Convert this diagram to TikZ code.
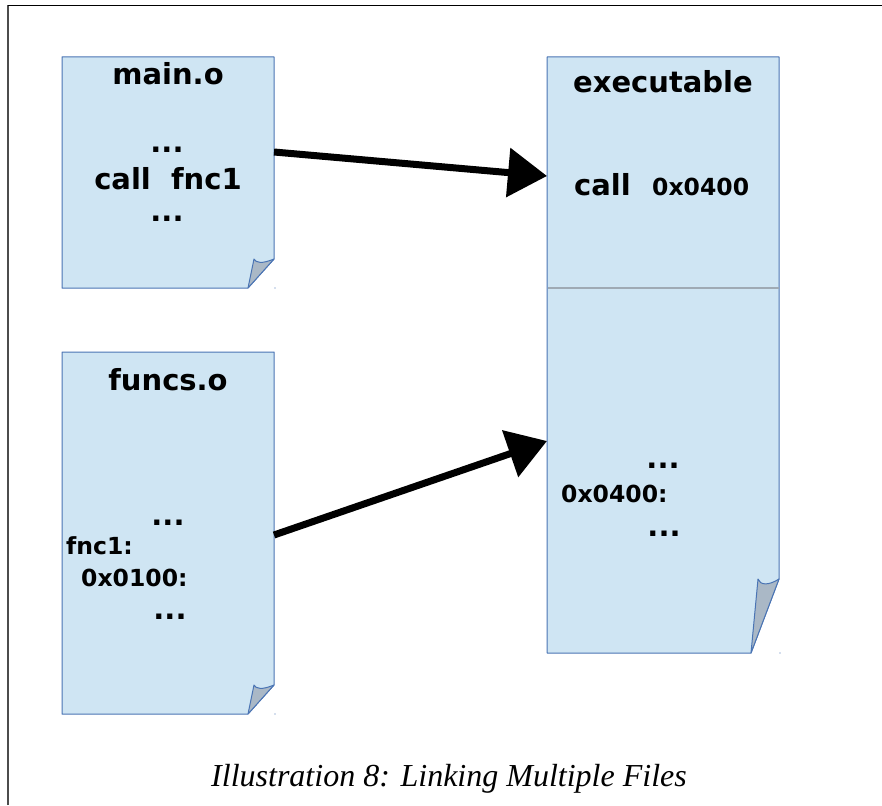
\documentclass[tikz,border=0pt]{standalone}
\usepackage{fontspec}
\setmainfont{DejaVu Sans}
\newfontfamily\capfont{Liberation Serif}
\usetikzlibrary{arrows.meta}
\definecolor{docfill}{HTML}{CFE5F3}
\definecolor{docline}{HTML}{4A74B4}
\definecolor{foldfill}{HTML}{AAB8C6}
\definecolor{divline}{HTML}{9FAAB4}
\tikzset{
  docshape/.style={fill=docfill, draw=docline, line width=1pt, line join=round},
  foldshape/.style={fill=foldfill, draw=docline, line width=1pt, line join=round},
  big/.style={font=\fontsize{29}{34}\selectfont\bfseries, inner sep=0pt, anchor=base},
  small/.style={font=\fontsize{23.5}{28}\selectfont\bfseries, inner sep=0pt, anchor=base},
  bigarrow/.style={line width=7pt, -{Triangle[length=39pt,width=48pt]}},
}
\begin{document}
\begin{tikzpicture}[x=1pt,y=-1pt]
\useasboundingbox (0,0) rectangle (882,805);
% frame
\draw[line width=1.2pt, black!70] (8,805) -- (8,5.5);
\draw[line width=1.4pt, black] (8,5.5) -- (882,5.5);

% main.o
\path[docshape] (62,57) -- (274,57) -- (274,259) -- (248,288) -- (62,288) -- cycle;
\path[foldshape] (248,288) -- (254,259) .. controls (256,263) and (262,264) .. (274,259) -- cycle;
\fill[docline] (275,288) circle (0.6);
\node[big] (mtitle) at (168,85) {main.o};
\node[big] (mdots1) at (167,153) {...};
\node[big] (mcall) at (168,189) {call\ \ fnc1};
\node[big] (mdots2) at (167,221) {...};

% funcs.o
\path[docshape] (62,352) -- (274,352) -- (274,685) -- (248,714) -- (62,714) -- cycle;
\path[foldshape] (248,714) -- (254,685) .. controls (256,689) and (262,690) .. (274,685) -- cycle;
\fill[docline] (275,714) circle (0.6);
\node[big] (ftitle) at (168,390) {funcs.o};
\node[big] (fdots1) at (168,525) {...};
\node[small, anchor=base west] (ffnc) at (66,554) {fnc1:};
\node[small, anchor=base west] (faddr) at (81,586) {0x0100:};
\node[big] (fdots2) at (170,619) {...};

% executable
\path[docshape] (547,57) -- (779,57) -- (779,579) -- (751,653) -- (547,653) -- cycle;
\path[foldshape] (751,653) -- (758,579) .. controls (760,585) and (768,586) .. (779,579) -- cycle;
\fill[docline] (780,653) circle (0.6);
\draw[divline, line width=1.2pt] (547.5,288) -- (778.5,288);
\node[big] (etitle) at (663,93) {executable};
\node[big, anchor=base west] (ecall) at (574,195) {call};
\node[small, anchor=base west] (eaddr) at (652,195) {0x0400};
\node[big] (edots1) at (663,468) {...};
\node[small, anchor=base west] (elabel) at (561,502) {0x0400:};
\node[big] (edots2) at (664,536) {...};

% arrows
\coordinate (a1s) at (274,152);
\coordinate (a1e) at (547,176);
\coordinate (a2s) at (274,535);
\coordinate (a2e) at (547,441);
\draw[bigarrow] (a1s) -- (a1e);
\draw[bigarrow] (a2s) -- (a2e);

% caption
\node[font=\capfont\itshape\fontsize{32}{38}\selectfont, inner sep=0pt, anchor=base] (cap) at (449,786) {Illustration 8: Linking Multiple Files};
\end{tikzpicture}
\end{document}
